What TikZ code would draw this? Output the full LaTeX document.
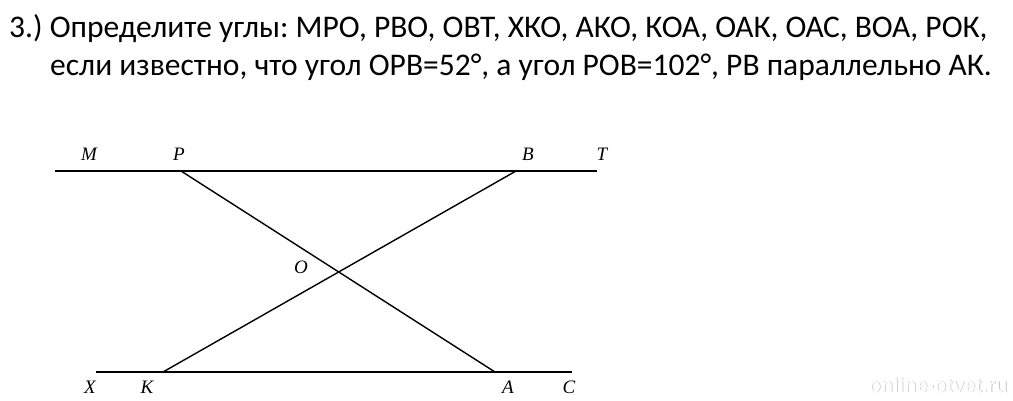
\documentclass[tikz,border=0pt]{standalone}
\usepackage{fontspec}
\setmainfont{Carlito}
\newfontfamily\ptfont{Liberation Serif}
\newfontfamily\wmfont{Liberation Sans}
\frenchspacing
\usetikzlibrary{positioning}
\tikzset{line/.style={line width=1.4pt},
  pt/.style={font=\ptfont\itshape\fontsize{19}{19}\selectfont,inner sep=0pt,anchor=base},
  task/.style={font=\fontsize{31.5}{34}\selectfont,inner sep=0pt,anchor=base west}}

\begin{document}
\begin{tikzpicture}[x=1pt,y=-1pt]
  \useasboundingbox (0,0) rectangle (1013,400);

  \node[task] (q1) at (9,37) {3.) Определите углы: МРО, РВО, ОВТ, ХКО, АКО, КОА, ОАК, ОАС, ВОА, РОК,};
  \node[task] (q2) at (50,75) {если известно, что угол ОРВ=52°, а угол РОВ=102°, РВ параллельно АК.};

  % top and bottom lines
  \coordinate (m) at (55,171);
  \coordinate (p) at (181,171);
  \coordinate (b) at (516,171);
  \coordinate (t) at (597,171);
  \coordinate (x) at (96,372);
  \coordinate (k) at (163,372);
  \coordinate (a) at (495,372);
  \coordinate (c) at (572,372);

  \draw[line] (m) -- (t);
  \draw[line] (x) -- (c);
  \draw[line] (p) -- (a);
  \draw[line] (b) -- (k);

  \node[pt] (lm) at (89,160) {M};
  \node[pt] (lp) at (179,160) {P};
  \node[pt] (lb) at (528,160) {B};
  \node[pt] (lt) at (602,160) {T};
  \node[pt] (lo) at (301,273) {O};
  \node[pt] (lx) at (90,393) {X};
  \node[pt] (lk) at (147,393) {K};
  \node[pt] (la) at (508,393) {A};
  \node[pt] (lc) at (569,393) {C};

  \node[font=\wmfont\bfseries\fontsize{20}{20}\selectfont,text=gray!45] at (938.8,385.8) {online-otvet.ru};
  \node[font=\wmfont\bfseries\fontsize{20}{20}\selectfont,text=white] (wm) at (938,385) {online-otvet.ru};
\end{tikzpicture}
\end{document}
